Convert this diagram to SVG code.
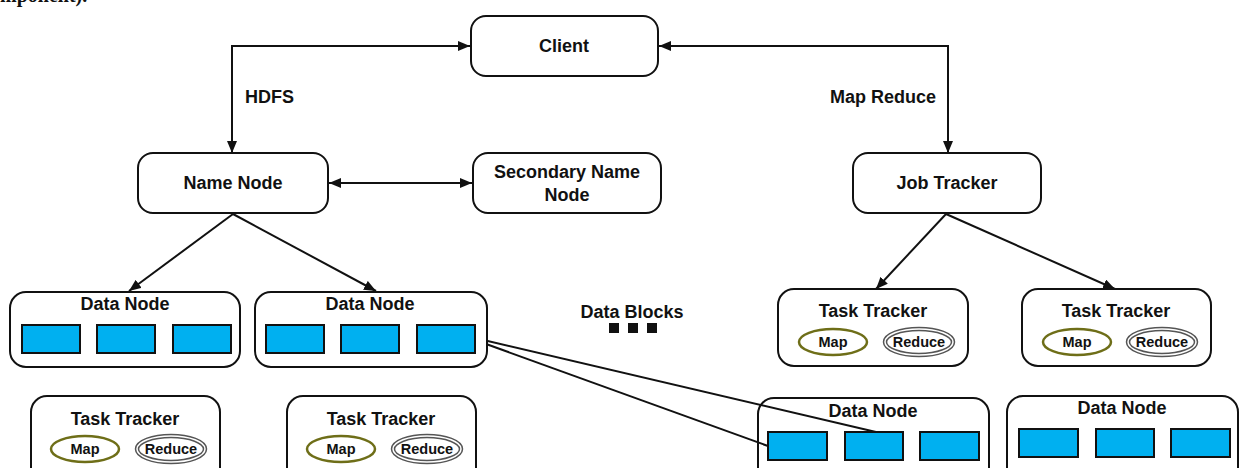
<svg xmlns="http://www.w3.org/2000/svg" width="1241" height="468" viewBox="0 0 1241 468">
<defs>
<style>
.box{fill:#fff;stroke:#111;stroke-width:2}
.t{font-family:"Liberation Sans",Arial,sans-serif;font-weight:bold;font-size:18px;fill:#111;text-anchor:middle}
.lbl{font-family:"Liberation Sans",Arial,sans-serif;font-weight:bold;font-size:18px;fill:#111}
.s{font-family:"Liberation Sans",Arial,sans-serif;font-weight:bold;font-size:14.5px;fill:#111;text-anchor:middle}
.blk{fill:#00b0f0;stroke:#111;stroke-width:2}
.map{fill:#fff;stroke:#6e6e18;stroke-width:2.5}
.redo{fill:#fff;stroke:#555;stroke-width:4.5}
.redi{fill:none;stroke:#fff;stroke-width:1.5}
.c{fill:none;stroke:#111;stroke-width:2}
</style>
<marker id="ah" viewBox="0 0 12 10" refX="12" refY="5" markerWidth="12" markerHeight="10" markerUnits="userSpaceOnUse" orient="auto-start-reverse">
<path d="M0,0 L12,5 L0,10 z" fill="#111"/>
</marker>
</defs>
<text x="0" y="2" font-family="Liberation Serif,serif" font-size="20" font-weight="bold" fill="#111">mponent).</text>
<g id="connectors">
<polyline class="c" points="470,46 232,46 232,153" marker-start="url(#ah)" marker-end="url(#ah)"/>
<polyline class="c" points="659,46 948,46 948,153" marker-start="url(#ah)" marker-end="url(#ah)"/>
<line class="c" x1="329" y1="183" x2="472" y2="183" marker-start="url(#ah)" marker-end="url(#ah)"/>
<line class="c" x1="233" y1="214" x2="129" y2="291" marker-end="url(#ah)"/>
<line class="c" x1="233" y1="214" x2="376" y2="291" marker-end="url(#ah)"/>
<line class="c" x1="946" y1="214" x2="876" y2="289" marker-end="url(#ah)"/>
<line class="c" x1="946" y1="214" x2="1115" y2="289" marker-end="url(#ah)"/>
<line class="c" x1="475" y1="338" x2="876" y2="432"/>
<line class="c" x1="475" y1="340" x2="768" y2="446"/>
<text class="lbl" x="245" y="103">HDFS</text>
<text class="lbl" x="830" y="103">Map Reduce</text>
</g>
<g id="client"><rect class="box" x="471" y="16" width="187" height="60" rx="15"/><text class="t" x="564" y="52">Client</text></g>
<g id="namenode"><rect class="box" x="138" y="153" width="190" height="60" rx="15"/><text class="t" x="233" y="189">Name Node</text></g>
<g id="secondary"><rect class="box" x="473" y="153" width="188" height="60" rx="15"/><text class="t" x="567" y="178">Secondary Name</text><text class="t" x="567" y="201">Node</text></g>
<g id="jobtracker"><rect class="box" x="853" y="153" width="188" height="60" rx="15"/><text class="t" x="947" y="189">Job Tracker</text></g>
<g id="datanode1"><rect class="box" x="10" y="292" width="230" height="75" rx="16"/><text class="t" x="125" y="310">Data Node</text>
<rect class="blk" x="22" y="325" width="58" height="28"/><rect class="blk" x="97" y="325" width="58" height="28"/><rect class="blk" x="173" y="325" width="58" height="28"/></g>
<g id="datanode2"><rect class="box" x="255" y="292" width="232" height="75" rx="16"/><text class="t" x="370" y="310">Data Node</text>
<rect class="blk" x="266" y="325" width="58" height="28"/><rect class="blk" x="341" y="325" width="58" height="28"/><rect class="blk" x="417" y="325" width="58" height="28"/></g>
<g id="datablocks"><text class="t" x="632" y="318">Data Blocks</text>
<rect x="609" y="323" width="10" height="10" fill="#111"/><rect x="628" y="323" width="10" height="10" fill="#111"/><rect x="647" y="323" width="10" height="10" fill="#111"/></g>
<g id="tasktracker1"><rect class="box" x="778" y="289" width="190" height="77" rx="16"/><text class="t" x="873" y="317">Task Tracker</text>
<ellipse class="map" cx="833" cy="342" rx="34" ry="13"/><text class="s" x="833" y="347">Map</text>
<ellipse class="redo" cx="919" cy="342" rx="34" ry="13"/><ellipse class="redi" cx="919" cy="342" rx="34" ry="13"/><text class="s" x="919" y="347">Reduce</text></g>
<g id="tasktracker2"><rect class="box" x="1022" y="289" width="189" height="77" rx="16"/><text class="t" x="1116" y="317">Task Tracker</text>
<ellipse class="map" cx="1077" cy="342" rx="34" ry="13"/><text class="s" x="1077" y="347">Map</text>
<ellipse class="redo" cx="1162" cy="342" rx="34" ry="13"/><ellipse class="redi" cx="1162" cy="342" rx="34" ry="13"/><text class="s" x="1162" y="347">Reduce</text></g>
<g id="tasktracker3"><rect class="box" x="31" y="396" width="189" height="90" rx="16"/><text class="t" x="125" y="425">Task Tracker</text>
<ellipse class="map" cx="85" cy="449" rx="34" ry="13"/><text class="s" x="85" y="454">Map</text>
<ellipse class="redo" cx="171" cy="449" rx="34" ry="13"/><ellipse class="redi" cx="171" cy="449" rx="34" ry="13"/><text class="s" x="171" y="454">Reduce</text></g>
<g id="tasktracker4"><rect class="box" x="287" y="396" width="189" height="90" rx="16"/><text class="t" x="381" y="425">Task Tracker</text>
<ellipse class="map" cx="341" cy="449" rx="34" ry="13"/><text class="s" x="341" y="454">Map</text>
<ellipse class="redo" cx="427" cy="449" rx="34" ry="13"/><ellipse class="redi" cx="427" cy="449" rx="34" ry="13"/><text class="s" x="427" y="454">Reduce</text></g>
<g id="datanode3"><rect class="box" x="758" y="398" width="231" height="90" rx="16" fill-opacity="0"/><text class="t" x="873" y="417">Data Node</text>
<rect class="blk" x="768" y="432" width="59" height="28"/><rect class="blk" x="845" y="432" width="58" height="28"/><rect class="blk" x="920" y="432" width="59" height="28"/></g>
<g id="datanode4"><rect class="box" x="1007" y="396" width="231" height="90" rx="16"/><text class="t" x="1122" y="414">Data Node</text>
<rect class="blk" x="1019" y="429" width="59" height="28"/><rect class="blk" x="1096" y="429" width="58" height="28"/><rect class="blk" x="1171" y="429" width="59" height="28"/></g>
</svg>
